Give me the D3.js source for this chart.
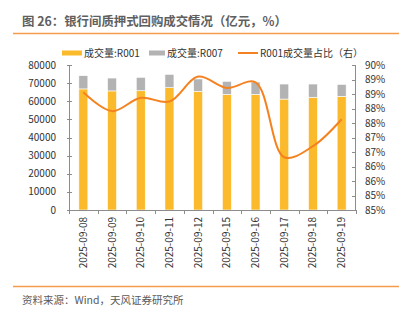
<!DOCTYPE html>
<html>
<head>
<meta charset="utf-8">
<script src="https://cdn.jsdelivr.net/npm/d3@7"></script>
<style>
  body { margin: 0; background: #fff; }
  text { font-family: "Noto Sans CJK SC", "Noto Sans", sans-serif; }
</style>
</head>
<body>
<div id="chart"></div>
<script>
const dates = ["2025-09-08", "2025-09-09", "2025-09-10", "2025-09-11", "2025-09-12",
  "2025-09-15", "2025-09-16", "2025-09-17", "2025-09-18", "2025-09-19"];
const r001 = [66800, 65700, 65800, 67500, 65500, 63800, 63800, 61200, 62200, 62700];
const r007 = [7300, 7100, 7400, 7350, 6800, 7200, 6800, 8300, 7300, 6600];
const share = [89.06, 88.41, 88.87, 88.74, 89.6, 89.21, 89.4, 86.82, 87.2, 88.13];
const leftTicks = [0, 10000, 20000, 30000, 40000, 50000, 60000, 70000, 80000];
const rightTicks = [85, 85.5, 86, 86.5, 87, 87.5, 88, 88.5, 89, 89.5, 90];
const rightLabels = ["85%", "85%", "86%", "86%", "87%", "87%", "88%", "88%", "89%", "89%", "90%"];

const W = 409, H = 324;
const plot = { left: 69, right: 356, top: 65, bottom: 210 };
const orange = "#F58220", yellow = "#FBBA2B", gray = "#B3B3B3", axisColor = "#8C8C8C";

const svg = d3.select("#chart").append("svg")
  .attr("width", W).attr("height", H);

// title and rules
svg.append("text").attr("x", 22).attr("y", 26)
  .attr("font-size", 12.4).attr("font-weight", "bold").attr("fill", "#5f5f5f")
  .text("图 26：银行间质押式回购成交情况（亿元，%）");
svg.append("line").attr("x1", 13).attr("x2", 399).attr("y1", 33.5).attr("y2", 33.5)
  .attr("stroke", orange).attr("stroke-width", 1.5).attr("opacity", 0.8);
svg.append("line").attr("x1", 13).attr("x2", 399).attr("y1", 286.5).attr("y2", 286.5)
  .attr("stroke", orange).attr("stroke-width", 1.5).attr("opacity", 0.8);
svg.append("text").attr("x", 22).attr("y", 304)
  .attr("font-size", 10.5).attr("fill", "#595959")
  .text("资料来源：Wind，天风证券研究所");

const x = d3.scaleBand().domain(dates).range([plot.left, plot.right]);
const yL = d3.scaleLinear().domain([0, 80000]).range([plot.bottom, plot.top]);
const yR = d3.scaleLinear().domain([85, 90]).range([plot.bottom, plot.top]);

// bars
const barW = 9;
const bars = svg.append("g");
dates.forEach((d, i) => {
  const cx = x(d) + x.bandwidth() / 2;
  bars.append("rect")
    .attr("x", cx - barW / 2).attr("width", barW)
    .attr("y", yL(r001[i])).attr("height", yL(0) - yL(r001[i]))
    .attr("fill", yellow).attr("stroke", "#fff").attr("stroke-width", 0.6);
  bars.append("rect")
    .attr("x", cx - barW / 2).attr("width", barW)
    .attr("y", yL(r001[i] + r007[i])).attr("height", yL(r001[i]) - yL(r001[i] + r007[i]))
    .attr("fill", gray).attr("stroke", "#fff").attr("stroke-width", 0.6);
});

// line
const line = d3.line()
  .x((d, i) => x(dates[i]) + x.bandwidth() / 2)
  .y(d => yR(d))
  .curve(d3.curveCatmullRom.alpha(0.5));
svg.append("path").datum(share)
  .attr("d", line).attr("fill", "none")
  .attr("stroke", orange).attr("stroke-width", 2);

// axes
const ax = svg.append("g").attr("stroke", axisColor).attr("stroke-width", 1);
ax.append("line").attr("x1", plot.left + 0.5).attr("x2", plot.left + 0.5).attr("y1", plot.top).attr("y2", plot.bottom);
ax.append("line").attr("x1", plot.right - 0.5).attr("x2", plot.right - 0.5).attr("y1", plot.top).attr("y2", plot.bottom);
ax.append("line").attr("x1", plot.left).attr("x2", plot.right).attr("y1", plot.bottom + 0.5).attr("y2", plot.bottom + 0.5);
leftTicks.forEach(t => {
  const y = Math.round(yL(t)) + 0.5;
  ax.append("line").attr("x1", plot.left - 2).attr("x2", plot.left + 3).attr("y1", y).attr("y2", y);
});
rightTicks.forEach(t => {
  const y = Math.round(yR(t)) + 0.5;
  ax.append("line").attr("x1", plot.right - 4).attr("x2", plot.right).attr("y1", y).attr("y2", y);
});
dates.concat([null]).forEach((d, i) => {
  const xx = Math.round(plot.left + i * x.bandwidth()) + 0.5;
  ax.append("line").attr("x1", xx).attr("x2", xx).attr("y1", plot.bottom).attr("y2", plot.bottom + 4);
});

// tick labels
svg.append("g").selectAll("text").data(leftTicks).join("text")
  .attr("x", 56).attr("y", d => yL(d) + 3.5)
  .attr("text-anchor", "end").attr("font-size", 10).attr("fill", "#333")
  .text(d => d);
svg.append("g").selectAll("text").data(rightTicks).join("text")
  .attr("x", 365).attr("y", d => yR(d) + 3.5)
  .attr("font-size", 10).attr("fill", "#333")
  .text((d, i) => rightLabels[i]);
svg.append("g").selectAll("text").data(dates).join("text")
  .attr("transform", d => `translate(${x(d) + x.bandwidth() / 2 + 3.5},${plot.bottom + 7}) rotate(-90)`)
  .attr("text-anchor", "end").attr("font-size", 10).attr("fill", "#333")
  .text(d => d);

// legend
const lg = svg.append("g").attr("font-size", 10).attr("fill", "#333");
lg.append("rect").attr("x", 62).attr("y", 50.5).attr("width", 20).attr("height", 5).attr("fill", yellow);
lg.append("text").attr("x", 84).attr("y", 57).text("成交量:R001");
lg.append("rect").attr("x", 149).attr("y", 50.5).attr("width", 16).attr("height", 5).attr("fill", gray);
lg.append("text").attr("x", 167).attr("y", 57).text("成交量:R007");
lg.append("line").attr("x1", 238).attr("x2", 258).attr("y1", 53).attr("y2", 53)
  .attr("stroke", orange).attr("stroke-width", 2);
lg.append("text").attr("x", 260).attr("y", 57).text("R001成交量占比（右）");
</script>
</body>
</html>
